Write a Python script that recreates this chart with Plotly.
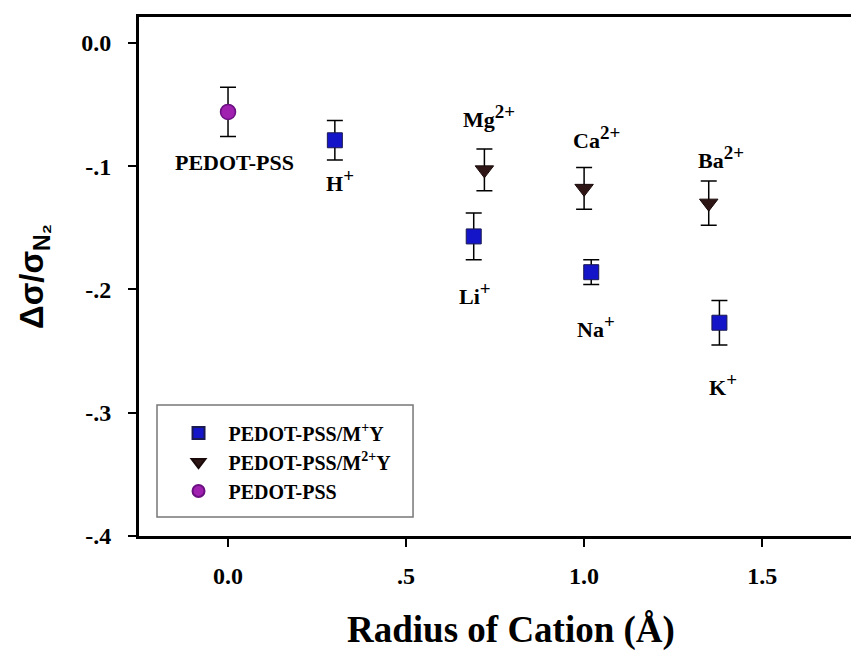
import plotly.graph_objects as go

# Monovalent cations (PEDOT-PSS/M+Y)
mono_names = ["H", "Li", "Na", "K"]
mono_charge = ["+", "+", "+", "+"]
mono_x = [0.30, 0.69, 1.02, 1.38]
mono_y = [-0.079, -0.157, -0.186, -0.227]
mono_err = [0.016, 0.019, 0.010, 0.018]

# Divalent cations (PEDOT-PSS/M2+Y)
di_names = ["Mg", "Ca", "Ba"]
di_charge = ["2+", "2+", "2+"]
di_x = [0.72, 1.00, 1.35]
di_y = [-0.103, -0.118, -0.130]
di_err = [0.017, 0.017, 0.018]

# Pristine PEDOT-PSS
ref_x = [0.0]
ref_y = [-0.056]
ref_err = [0.020]

# label anchor positions (data coordinates)
mono_lab_x = [0.315, 0.694, 1.034, 1.39]
mono_lab_y = [-0.112, -0.203, -0.230, -0.277]
di_lab_x = [0.733, 1.034, 1.385]
di_lab_y = [-0.060, -0.077, -0.093]
ref_lab_x = [0.017]
ref_lab_y = [-0.097]

serif = "Liberation Serif"
sans = "Liberation Sans"

fig = go.Figure()
fig.add_trace(go.Scatter(
    x=mono_x, y=mono_y, mode="markers", name="<b>PEDOT-PSS/M<sup>+</sup>Y</b>",
    marker=dict(symbol="square", size=15, color="#1414c8", line=dict(color="#1a1a50", width=1)),
    error_y=dict(type="data", array=mono_err, color="black", thickness=1.5, width=8),
))
fig.add_trace(go.Scatter(
    x=di_x, y=di_y, mode="markers", name="<b>PEDOT-PSS/M<sup>2+</sup>Y</b>",
    marker=dict(symbol="triangle-down", size=16, color="#2e1616", line=dict(color="#1a0a0a", width=1)),
    error_y=dict(type="data", array=di_err, color="black", thickness=1.5, width=8),
))
fig.add_trace(go.Scatter(
    x=ref_x, y=ref_y, mode="markers", name="<b>PEDOT-PSS</b>",
    marker=dict(symbol="circle", size=15, color="#a020b0", line=dict(color="#6a1080", width=1.5)),
    error_y=dict(type="data", array=ref_err, color="black", thickness=1.5, width=8),
))

tfont = dict(family=serif, size=22, color="black")
labels = [n + "<sup><span style='font-size:19px'>" + c + "</span></sup>"
          for n, c in zip(mono_names + di_names, mono_charge + di_charge)] + ["PEDOT-PSS"]
for lx, ly, t in zip(mono_lab_x + di_lab_x + ref_lab_x,
                     mono_lab_y + di_lab_y + ref_lab_y, labels):
    fig.add_annotation(x=lx, y=ly, xref="x", yref="y", text="<b>" + t + "</b>",
                       showarrow=False, font=tfont)

# x-axis title (as annotation, slightly right of centre like the original)
fig.add_annotation(x=0.517, y=-0.181, xref="paper", yref="paper",
                   xanchor="center", yanchor="middle", showarrow=False,
                   text="<b>Radius of Cation (Å)</b>",
                   font=dict(family=serif, size=37, color="black"))

# legend frame
fig.add_shape(type="rect", xref="paper", yref="paper",
              x0=0.025, x1=0.3806, y0=0.0366, y1=0.2524,
              line=dict(color="#777777", width=1.5), fillcolor="white", layer="below")

fig.update_layout(
    width=851, height=645,
    margin=dict(l=131, r=0, t=9, b=117),
    paper_bgcolor="white", plot_bgcolor="white",
    font=dict(family=serif, color="black"),
    showlegend=True,
    legend=dict(
        x=0.041, y=0.236, xanchor="left", yanchor="top",
        borderwidth=0, bgcolor="rgba(0,0,0,0)",
        font=dict(family=serif, size=20, color="black"),
        itemsizing="constant", tracegroupgap=0, itemwidth=50,
    ),
    xaxis=dict(
        range=[-0.25, 1.772], tickvals=[0.0, 0.5, 1.0, 1.5],
        ticktext=["<b>0.0</b>", "<b>.5</b>", "<b>1.0</b>", "<b>1.5</b>"],
        showgrid=False, zeroline=False, showline=True, linecolor="black", linewidth=3,
        mirror=True, ticks="outside", ticklen=8, tickwidth=2, tickcolor="black",
        tickfont=dict(family=serif, size=24, color="black"),
        ticklabelstandoff=8,
    ),
    yaxis=dict(
        range=[-0.4, 0.021], tickvals=[0.0, -0.1, -0.2, -0.3, -0.4],
        ticktext=["<b>0.0</b>", "<b>-.1</b>", "<b>-.2</b>", "<b>-.3</b>", "<b>-.4</b>"],
        showgrid=False, zeroline=False, showline=True, linecolor="black", linewidth=3,
        mirror=False, ticks="outside", ticklen=8, tickwidth=2, tickcolor="black",
        tickfont=dict(family=serif, size=24, color="black"),
        ticklabelstandoff=12,
        title=dict(text="<b>Δσ/σ<sub>N₂</sub></b>", font=dict(family=sans, size=33, color="black"), standoff=28),
    ),
)

fig.write_html("out.html")
